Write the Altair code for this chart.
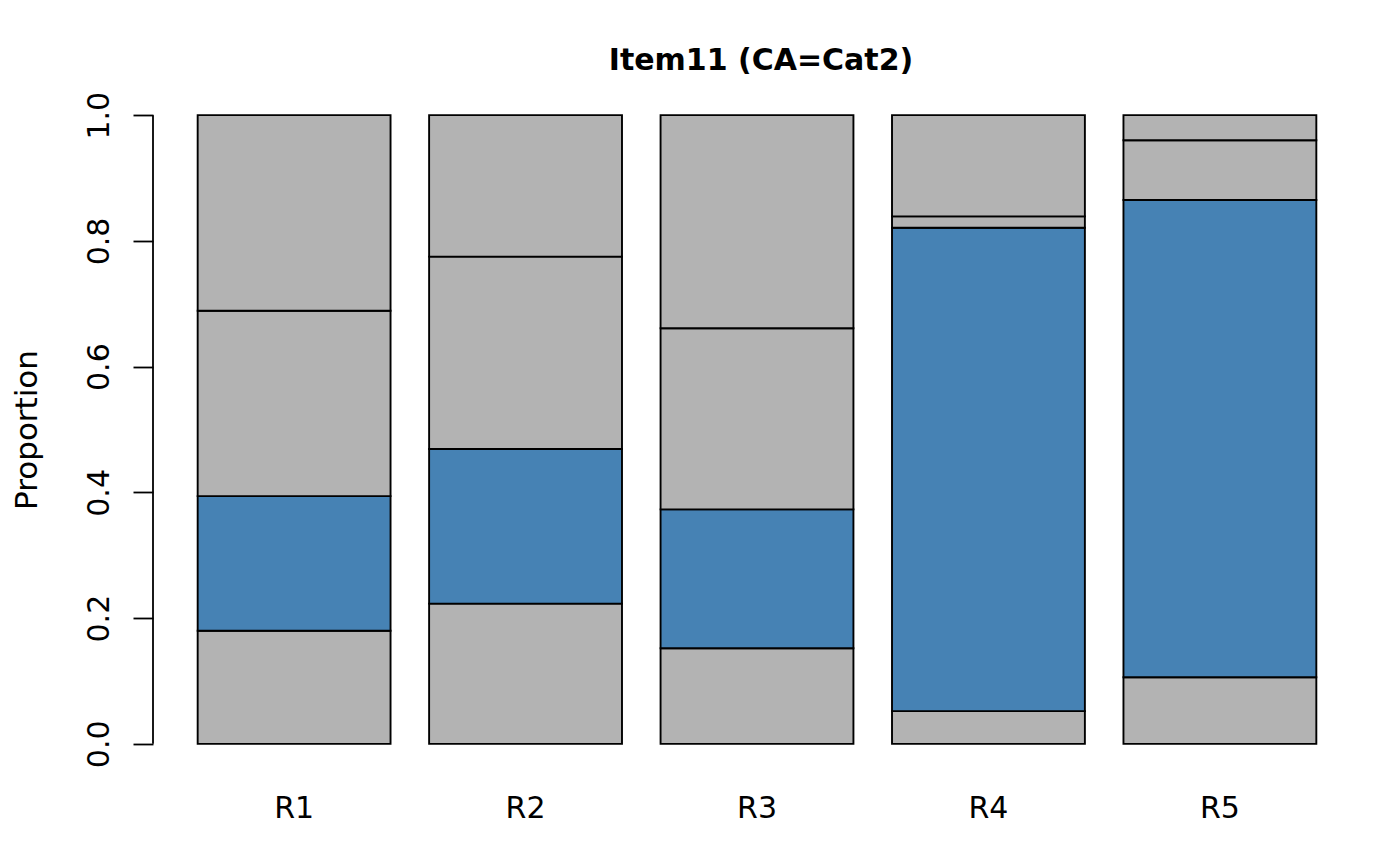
import altair as alt
import pandas as pd

# Data
bars = ["R1", "R2", "R3", "R4", "R5"]
categories = ["Cat1", "Cat2", "Cat3", "Cat4"]
cat1 = [0.180, 0.223, 0.152, 0.052, 0.106]
cat2 = [0.214, 0.246, 0.221, 0.769, 0.759]
cat3 = [0.295, 0.306, 0.288, 0.018, 0.095]
cat4 = [0.311, 0.225, 0.339, 0.161, 0.040]
y_ticks = [0.0, 0.2, 0.4, 0.6, 0.8, 1.0]

series = {"Cat1": cat1, "Cat2": cat2, "Cat3": cat3, "Cat4": cat4}
rows = []
for ci, c in enumerate(categories):
    for b, v in zip(bars, series[c]):
        rows.append({"bar": b, "cat": c, "order": ci, "value": v})
df = pd.DataFrame(rows)

FONT = "DejaVu Sans"
W, H = 1208, 679

yscale = alt.Scale(domain=[-0.04, 1.04], nice=False, zero=False)

bars_chart = alt.Chart(df).mark_bar(stroke="black", strokeWidth=1.9).encode(
    x=alt.X("bar:N", sort=bars,
            scale=alt.Scale(paddingInner=1/6, paddingOuter=0.193),
            axis=alt.Axis(title=None, labelAngle=0, domain=False, ticks=False,
                          tickSize=0, labelPadding=48, labelBaseline="alphabetic",
                          labelFontSize=30, labelFont=FONT, labelColor="black")),
    y=alt.Y("value:Q", stack="zero", scale=yscale,
            axis=alt.Axis(title="Proportion", values=y_ticks, format=".1f",
                          domain=False, grid=False, tickSize=20, tickColor="black",
                          tickWidth=1.8,
                          labelAngle=270, labelAlign="center", labelBaseline="alphabetic",
                          labelPadding=25, labelFontSize=30, labelFont=FONT,
                          labelColor="black",
                          titleAngle=270, titleAlign="center", titleBaseline="alphabetic",
                          titleX=-117, titleY=H / 2, titleFontSize=31,
                          titleFontWeight="normal", titleFont=FONT, titleColor="black")),
    color=alt.Color("cat:N", scale=alt.Scale(domain=categories,
                                             range=["#B3B3B3", "#4682B4", "#B3B3B3", "#B3B3B3"]),
                    legend=None),
    order=alt.Order("order:Q"),
)

axis_line = alt.Chart(pd.DataFrame({"y0": [y_ticks[0]], "y1": [y_ticks[-1]]})).mark_rule(
    color="black", strokeWidth=1.8
).encode(x=alt.value(0), y=alt.Y("y0:Q", scale=yscale), y2="y1:Q")

chart = alt.layer(bars_chart, axis_line).properties(
    width=W, height=H,
    title=alt.TitleParams("Item11 (CA=Cat2)", font=FONT, fontSize=30, fontWeight="bold",
                          color="black", anchor="middle", frame="group",
                          baseline="alphabetic", offset=18, dx=4, dy=28),
    autosize=alt.AutoSizeParams(type="none"),
    padding={"left": 145, "top": 82, "right": 31, "bottom": 84},
).configure_view(strokeWidth=0)

chart.save("out.html", embed_options={"renderer": "svg", "actions": False})
